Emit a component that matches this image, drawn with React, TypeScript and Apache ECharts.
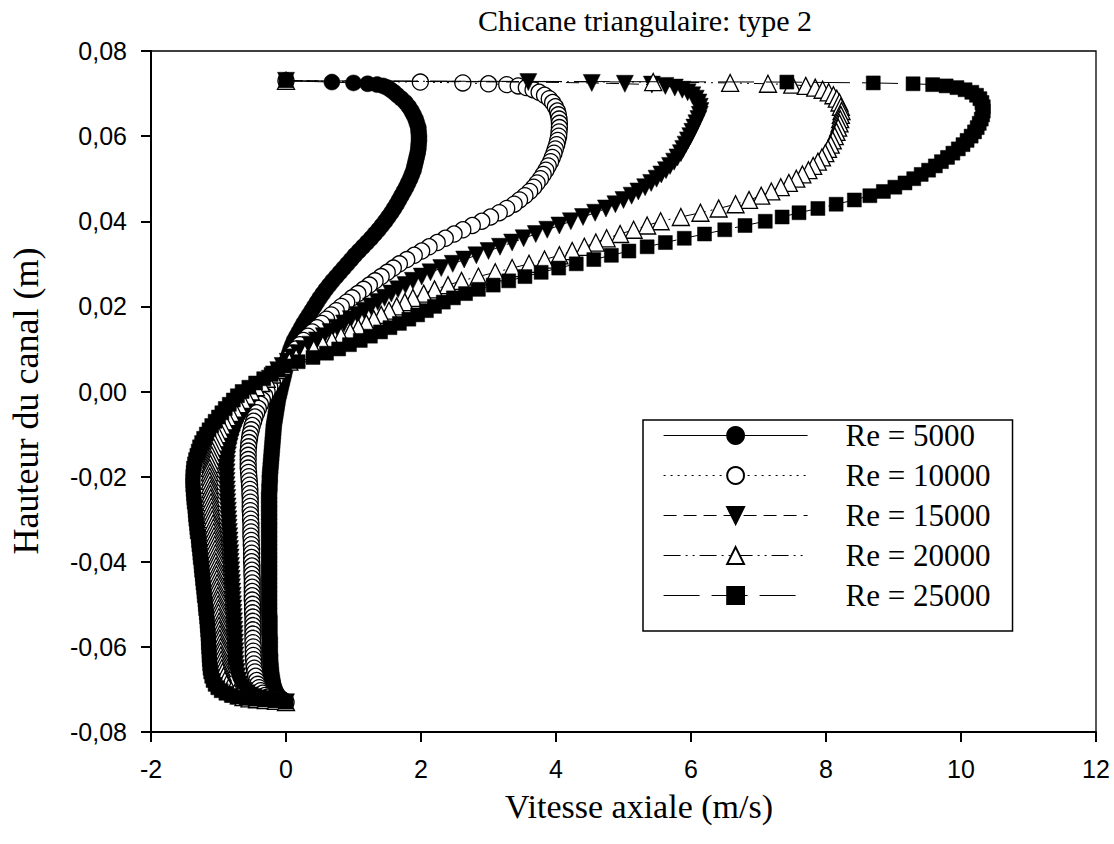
import React, { useEffect, useRef } from "react";
import * as echarts from "echarts";

// Channel height (m): near-wall rows, core rows, near-wall rows
const heightsTop = [
  0.073, 0.0727, 0.0725, 0.0723, 0.0721, 0.0718, 0.0714, 0.0709, 0.0703, 0.0696, 0.0688, 0.0679, 0.0669, 0.0659, 0.065, 0.064,
];
const heightsCore = [
  0.063, 0.062, 0.061, 0.06, 0.059, 0.058, 0.057, 0.056, 0.055, 0.054,
  0.053, 0.052, 0.051, 0.05, 0.049, 0.048, 0.047, 0.046, 0.045, 0.044,
  0.043, 0.042, 0.041, 0.04, 0.039, 0.038, 0.037, 0.036, 0.035, 0.034,
  0.033, 0.032, 0.031, 0.03, 0.029, 0.028, 0.027, 0.026, 0.025, 0.024,
  0.023, 0.022, 0.021, 0.02, 0.019, 0.018, 0.017, 0.016, 0.015, 0.014,
  0.013, 0.012, 0.011, 0.01, 0.009, 0.008, 0.007, 0.006, 0.005, 0.004,
  0.003, 0.002, 0.001, 0.0, -0.001, -0.002, -0.003, -0.004, -0.005, -0.006,
  -0.007, -0.008, -0.009, -0.01, -0.011, -0.012, -0.013, -0.014, -0.015, -0.016,
  -0.017, -0.018, -0.019, -0.02, -0.021, -0.022, -0.023, -0.024, -0.025, -0.026,
  -0.027, -0.028, -0.029, -0.03, -0.031, -0.032, -0.033, -0.034, -0.035, -0.036,
  -0.037, -0.038, -0.039, -0.04, -0.041, -0.042, -0.043, -0.044, -0.045, -0.046,
  -0.047, -0.048, -0.049, -0.05, -0.051, -0.052, -0.053, -0.054, -0.055, -0.056,
  -0.057, -0.058, -0.059, -0.06, -0.061, -0.062, -0.063,
];
const heightsBottom = [
  -0.064, -0.065, -0.0659, -0.0669, -0.0679, -0.0688, -0.0696, -0.0703, -0.0709, -0.0714, -0.0718, -0.0721, -0.0723, -0.0725, -0.0727, -0.073,
];
const heights = [...heightsTop, ...heightsCore, ...heightsBottom];

// Axial velocity (m/s), one value per height row
const v5000 = [
  0, 0.68, 1.0, 1.21, 1.35, 1.44, 1.5, 1.55, 1.6, 1.65, 1.71, 1.77, 1.82, 1.86, 1.89, 1.92,
  1.94, 1.96, 1.965, 1.97, 1.97, 1.965, 1.96, 1.95, 1.935, 1.92,
  1.905, 1.89, 1.865, 1.84, 1.81, 1.78, 1.745, 1.71, 1.675, 1.64,
  1.6, 1.56, 1.515, 1.47, 1.42, 1.37, 1.315, 1.26, 1.2, 1.14,
  1.08, 1.02, 0.965, 0.91, 0.855, 0.8, 0.745, 0.69, 0.64, 0.59,
  0.545, 0.5, 0.46, 0.42, 0.38, 0.34, 0.3, 0.26, 0.225, 0.19,
  0.155, 0.12, 0.095, 0.07, 0.05, 0.03, 0.015, 0.0, -0.015, -0.03,
  -0.045, -0.06, -0.075, -0.09, -0.105, -0.12, -0.13, -0.14, -0.15, -0.16,
  -0.17, -0.18, -0.185, -0.19, -0.195, -0.2, -0.205, -0.21, -0.215, -0.22,
  -0.225, -0.23, -0.235, -0.24, -0.24, -0.245, -0.245, -0.25, -0.25, -0.25,
  -0.25, -0.25, -0.25, -0.25, -0.25, -0.25, -0.25, -0.25, -0.25, -0.25,
  -0.25, -0.25, -0.25, -0.25, -0.25, -0.25, -0.25, -0.25, -0.25, -0.25,
  -0.25, -0.25, -0.25, -0.25, -0.25, -0.25, -0.245, -0.245, -0.245, -0.245,
  -0.245, -0.24, -0.24, -0.24, -0.24, -0.235, -0.235,
  -0.23, -0.225, -0.22, -0.21, -0.2, -0.19, -0.175, -0.16, -0.14, -0.12, -0.1, -0.08, -0.06, -0.04, -0.02, 0,
];
const v10000 = [
  0, 1.99, 2.62, 3.0, 3.27, 3.44, 3.56, 3.66, 3.75, 3.83, 3.9, 3.95, 3.99, 4.02, 4.035, 4.045,
  4.05, 4.05, 4.045, 4.04, 4.025, 4.01, 3.99, 3.97, 3.945, 3.92,
  3.885, 3.85, 3.81, 3.77, 3.72, 3.67, 3.61, 3.54, 3.46, 3.38,
  3.27, 3.16, 3.03, 2.9, 2.76, 2.62, 2.49, 2.36, 2.24, 2.12,
  2.01, 1.9, 1.79, 1.68, 1.59, 1.5, 1.41, 1.32, 1.235, 1.15,
  1.065, 0.98, 0.9, 0.82, 0.745, 0.67, 0.6, 0.53, 0.46, 0.39,
  0.325, 0.26, 0.205, 0.15, 0.105, 0.06, 0.015, -0.03, -0.075, -0.12,
  -0.16, -0.2, -0.24, -0.28, -0.315, -0.35, -0.38, -0.41, -0.435, -0.46,
  -0.48, -0.5, -0.515, -0.53, -0.54, -0.55, -0.555, -0.56, -0.56, -0.56,
  -0.56, -0.56, -0.555, -0.55, -0.545, -0.54, -0.535, -0.535, -0.53, -0.53,
  -0.53, -0.53, -0.525, -0.525, -0.52, -0.52, -0.52, -0.52, -0.515, -0.515,
  -0.51, -0.51, -0.51, -0.51, -0.505, -0.505, -0.505, -0.5, -0.5, -0.5,
  -0.5, -0.5, -0.5, -0.495, -0.495, -0.495, -0.49, -0.49, -0.49, -0.49,
  -0.49, -0.49, -0.49, -0.485, -0.485, -0.485, -0.48,
  -0.475, -0.47, -0.46, -0.45, -0.435, -0.42, -0.4, -0.375, -0.345, -0.31, -0.27, -0.22, -0.17, -0.12, -0.06, 0,
];
const v15000 = [
  0, 3.59, 4.53, 5.02, 5.42, 5.62, 5.76, 5.87, 5.95, 6.02, 6.07, 6.11, 6.13, 6.14, 6.13, 6.11,
  6.08, 6.05, 6.02, 5.99, 5.955, 5.92, 5.885, 5.85, 5.8, 5.75,
  5.69, 5.63, 5.56, 5.49, 5.41, 5.32, 5.22, 5.12, 5.0, 4.88,
  4.74, 4.58, 4.4, 4.22, 4.05, 3.87, 3.7, 3.52, 3.35, 3.17,
  3.0, 2.82, 2.64, 2.47, 2.3, 2.14, 2.01, 1.88, 1.77, 1.66,
  1.56, 1.46, 1.36, 1.26, 1.16, 1.06, 0.96, 0.86, 0.76, 0.66,
  0.56, 0.46, 0.365, 0.27, 0.185, 0.1, 0.025, -0.05, -0.115, -0.18,
  -0.24, -0.3, -0.36, -0.42, -0.47, -0.52, -0.56, -0.6, -0.635, -0.67,
  -0.7, -0.73, -0.755, -0.78, -0.8, -0.82, -0.835, -0.85, -0.86, -0.87,
  -0.875, -0.88, -0.88, -0.88, -0.88, -0.88, -0.875, -0.875, -0.87, -0.87,
  -0.865, -0.86, -0.86, -0.855, -0.85, -0.85, -0.845, -0.84, -0.835, -0.835,
  -0.83, -0.825, -0.82, -0.82, -0.815, -0.81, -0.81, -0.805, -0.8, -0.8,
  -0.795, -0.79, -0.79, -0.785, -0.78, -0.78, -0.775, -0.77, -0.77, -0.765,
  -0.76, -0.76, -0.755, -0.755, -0.75, -0.75, -0.75,
  -0.745, -0.74, -0.73, -0.72, -0.705, -0.685, -0.66, -0.625, -0.585, -0.535, -0.48, -0.41, -0.33, -0.24, -0.12, 0,
];
const v20000 = [
  0, 5.44, 6.58, 7.14, 7.5, 7.7, 7.84, 7.95, 8.04, 8.11, 8.16, 8.2, 8.22, 8.23, 8.22, 8.21,
  8.2, 8.18, 8.155, 8.13, 8.1, 8.07, 8.03, 7.99, 7.94, 7.88,
  7.81, 7.74, 7.65, 7.56, 7.45, 7.33, 7.19, 7.04, 6.86, 6.66,
  6.41, 6.14, 5.85, 5.55, 5.35, 5.15, 4.95, 4.75, 4.59, 4.42,
  4.24, 4.05, 3.83, 3.6, 3.35, 3.1, 2.85, 2.6, 2.4, 2.2,
  2.04, 1.88, 1.76, 1.64, 1.525, 1.41, 1.3, 1.19, 1.07, 0.95,
  0.815, 0.68, 0.545, 0.41, 0.28, 0.15, 0.05, -0.05, -0.125, -0.2,
  -0.285, -0.37, -0.445, -0.52, -0.585, -0.65, -0.71, -0.77, -0.82, -0.87,
  -0.91, -0.95, -0.98, -1.01, -1.035, -1.06, -1.075, -1.09, -1.1, -1.11,
  -1.12, -1.13, -1.13, -1.13, -1.13, -1.125, -1.12, -1.12, -1.115, -1.11,
  -1.105, -1.1, -1.095, -1.09, -1.08, -1.075, -1.07, -1.065, -1.06, -1.055,
  -1.05, -1.045, -1.04, -1.04, -1.035, -1.03, -1.03, -1.025, -1.02, -1.02,
  -1.015, -1.01, -1.01, -1.005, -1.0, -1.0, -0.995, -0.99, -0.99, -0.985,
  -0.98, -0.98, -0.975, -0.97, -0.97, -0.965, -0.96,
  -0.955, -0.95, -0.94, -0.925, -0.905, -0.88, -0.85, -0.81, -0.76, -0.7, -0.63, -0.54, -0.43, -0.3, -0.15, 0,
];
const v25000 = [
  0, 7.42, 8.7, 9.29, 9.58, 9.78, 9.94, 10.06, 10.16, 10.23, 10.28, 10.31, 10.33, 10.33, 10.32, 10.3,
  10.27, 10.24, 10.2, 10.15, 10.09, 10.03, 9.96, 9.88, 9.8, 9.71,
  9.62, 9.52, 9.41, 9.3, 9.17, 9.02, 8.85, 8.65, 8.42, 8.15,
  7.88, 7.6, 7.35, 7.1, 6.8, 6.5, 6.2, 5.9, 5.62, 5.35,
  5.08, 4.82, 4.56, 4.3, 4.04, 3.78, 3.54, 3.3, 3.07, 2.85,
  2.66, 2.48, 2.33, 2.2, 2.08, 1.95, 1.82, 1.68, 1.54, 1.4,
  1.25, 1.1, 0.94, 0.78, 0.6, 0.4, 0.18, -0.02, -0.12, -0.22,
  -0.33, -0.45, -0.55, -0.65, -0.72, -0.78, -0.84, -0.9, -0.95, -1.0,
  -1.05, -1.1, -1.14, -1.18, -1.22, -1.25, -1.28, -1.3, -1.32, -1.34,
  -1.355, -1.37, -1.375, -1.38, -1.38, -1.38, -1.375, -1.37, -1.365, -1.36,
  -1.35, -1.345, -1.34, -1.335, -1.325, -1.32, -1.315, -1.3, -1.295, -1.29,
  -1.28, -1.275, -1.27, -1.26, -1.255, -1.25, -1.24, -1.235, -1.23, -1.22,
  -1.215, -1.21, -1.2, -1.195, -1.19, -1.18, -1.175, -1.17, -1.165, -1.16,
  -1.155, -1.15, -1.15, -1.145, -1.14, -1.14, -1.135,
  -1.13, -1.125, -1.115, -1.1, -1.08, -1.05, -1.01, -0.96, -0.89, -0.81, -0.71, -0.59, -0.46, -0.32, -0.16, 0,
];

const seriesNames = ["Re = 5000", "Re = 10000", "Re = 15000", "Re = 20000", "Re = 25000"];
const seriesValues = [v5000, v10000, v15000, v20000, v25000];

const titleText = "Chicane triangulaire: type 2";
const xAxisTitle = "Vitesse axiale (m/s)";
const yAxisTitle = "Hauteur du canal (m)";

const SERIF = '"Liberation Serif", "Times New Roman", serif';
const SANS = '"Liberation Sans", Arial, sans-serif';

const seriesLook = [
  { symbol: "circle", size: 16, fill: "#000", dash: "solid" as any, rotate: 0 },
  { symbol: "circle", size: 16, fill: "#fff", dash: [2, 5], rotate: 0 },
  { symbol: "triangle", size: 17, fill: "#000", dash: [13, 7], rotate: 180 },
  { symbol: "triangle", size: 17, fill: "#fff", dash: [17, 5, 2, 5, 2, 5], rotate: 0 },
  { symbol: "rect", size: 14, fill: "#000", dash: [36, 12], rotate: 0 },
];

export default function App() {
  const ref = useRef<HTMLDivElement>(null);

  useEffect(() => {
    if (!ref.current) return;
    const chart = echarts.init(ref.current, null, { renderer: "svg" });

    const series = seriesNames.map((name, i) => {
      const look = seriesLook[i];
      return {
        name,
        type: "line",
        data: seriesValues[i].map((v, k) => [v, heights[k]]),
        symbol: look.symbol,
        symbolSize: look.size,
        symbolRotate: look.rotate,
        showAllSymbol: true,
        clip: true,
        lineStyle: { color: "#000", width: 1, type: look.dash },
        itemStyle: {
          color: look.fill,
          borderColor: "#000",
          borderWidth: look.fill === "#fff" ? 1.3 : 0.5,
        },
        emphasis: { disabled: true },
        z: 2 + i,
      };
    });

    chart.setOption({
      animation: false,
      backgroundColor: "#fff",
      grid: {
        left: 151,
        top: 51,
        width: 945,
        height: 681,
        show: true,
        borderColor: "#000",
        borderWidth: 1.3,
        backgroundColor: "transparent",
      },
      xAxis: {
        type: "value",
        min: -2,
        max: 12,
        interval: 2,
        axisLine: { show: true, onZero: false, lineStyle: { color: "#000", width: 2 } },
        axisTick: { show: true, length: 10, lineStyle: { color: "#000", width: 2 } },
        axisLabel: { color: "#000", fontFamily: SANS, fontSize: 25, margin: 24 },
        splitLine: { show: false },
      },
      yAxis: {
        type: "value",
        min: -0.08,
        max: 0.08,
        interval: 0.02,
        axisLine: { show: true, onZero: false, lineStyle: { color: "#000", width: 2 } },
        axisTick: { show: true, length: 10, lineStyle: { color: "#000", width: 2 } },
        axisLabel: {
          color: "#000",
          fontFamily: SANS,
          fontSize: 25,
          margin: 24,
          formatter: (v: number) => (Math.abs(v) < 1e-9 ? "0,00" : v.toFixed(2).replace(".", ",")),
        },
        splitLine: { show: false },
      },
      legend: {
        orient: "vertical",
        left: 643,
        top: 420,
        data: seriesNames,
        itemWidth: 144,
        itemHeight: 21,
        itemGap: 9,
        padding: [0, 22, 20, 20],
        borderColor: "#000",
        borderWidth: 1.5,
        backgroundColor: "#fff",
        selectedMode: false,
        textStyle: {
          fontFamily: SERIF,
          fontSize: 31,
          color: "#000",
          padding: [0, 0, 0, 33],
        },
        lineStyle: { width: 1.2 },
      },
      graphic: [
        {
          type: "text",
          x: 645,
          y: 20,
          style: {
            text: titleText,
            fontFamily: SERIF,
            fontSize: 30,
            fill: "#000",
            align: "center",
            verticalAlign: "middle",
          },
        },
        {
          type: "text",
          x: 639,
          y: 806,
          style: {
            text: xAxisTitle,
            fontFamily: SERIF,
            fontSize: 34,
            fill: "#000",
            align: "center",
            verticalAlign: "middle",
          },
        },
        {
          type: "text",
          x: 26,
          y: 401,
          rotation: Math.PI / 2,
          style: {
            text: yAxisTitle,
            fontFamily: SERIF,
            fontSize: 36,
            fill: "#000",
            align: "center",
            verticalAlign: "middle",
          },
        },
      ],
      series,
    });

    return () => {
      chart.dispose();
    };
  }, []);

  return (
    <div
      ref={ref}
      style={{ position: "absolute", left: 0, top: 0, width: 1114, height: 844 }}
    />
  );
}
